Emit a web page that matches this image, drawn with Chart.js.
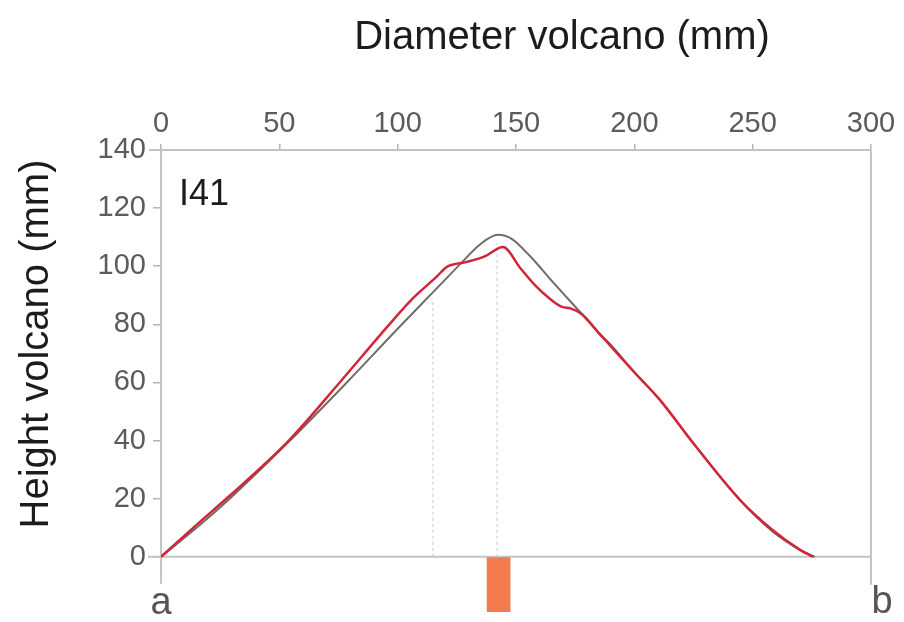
<!DOCTYPE html>
<html>
<head>
<meta charset="utf-8">
<script src="https://cdn.jsdelivr.net/npm/chart.js@4.4.1/dist/chart.umd.min.js"></script>
<style>
  html, body { margin: 0; padding: 0; background: #fff; }
</style>
</head>
<body>
<canvas id="chart" width="904" height="622"></canvas>
<script>
// values (mm)
const xTicks = [0, 50, 100, 150, 200, 250, 300];
const yTicks = [0, 20, 40, 60, 80, 100, 120, 140];

const grayProfile = [
  [0, 0], [15, 10], [29, 20], [54.5, 40], [78.5, 60], [100, 78.5], [110.7, 87.5],
  [120, 95.3], [126.5, 100.8], [134.8, 107.5], [142.4, 110.8], [148, 109.5],
  [155.9, 103.5], [165.6, 94.5], [178, 83.4], [185, 77], [190, 73], [200, 63.5],
  [210.8, 54], [225, 39], [244.6, 19.6], [258, 9], [270, 2.4], [276.3, 0],
];
const redProfile = [
  [0, 0], [15, 11], [29, 21], [54, 40], [75.5, 60], [96.5, 80], [106.5, 89],
  [116.6, 96.5], [120.8, 99.8], [129.3, 101.5], [137, 103.5], [144.5, 106.6],
  [151.7, 99.5], [158, 93.5], [164.3, 88.8], [169.4, 86], [173, 85.5],
  [178, 83.4], [185, 77], [190, 72.5], [200, 63.5], [210.8, 54], [225, 39],
  [244.6, 19.6], [258, 9.5], [270, 2.4], [275.5, 0],
];
const guideLeft = [[114.9, 0], [114.9, 89]];
const guidePeak = [[142, 0], [142, 108]];
const markerX = 142.65;
const markerSpan = [-19, 0];

const FONT = '"Liberation Sans", Arial, sans-serif';
const toPts = (arr) => arr.map(([x, y]) => ({ x, y }));

const decor = {
  id: "decor",
  beforeDatasetsDraw(chart) {
    const { ctx, scales: { x, y } } = chart;
    const x0 = x.getPixelForValue(0), x1 = x.getPixelForValue(300);
    const yTop = y.getPixelForValue(140), y0 = y.getPixelForValue(0);
    ctx.save();
    ctx.strokeStyle = "#c4c4c4";
    ctx.lineWidth = 2;
    ctx.beginPath();
    ctx.moveTo(x0 - 12, yTop); ctx.lineTo(x1, yTop);
    ctx.moveTo(x0 - 13, y0); ctx.lineTo(x1, y0);
    ctx.moveTo(x0, yTop); ctx.lineTo(x0, y0 + 27);
    ctx.moveTo(x1, yTop); ctx.lineTo(x1, y0 + 28);
    ctx.stroke();
    ctx.restore();
  },
  afterDraw(chart) {
    const { ctx, scales: { x, y } } = chart;
    const x0 = x.getPixelForValue(0), x1 = x.getPixelForValue(300);
    ctx.save();
    ctx.fillStyle = "#1c1c1c";
    ctx.font = `40px ${FONT}`;
    ctx.textAlign = "center";
    ctx.textBaseline = "alphabetic";
    ctx.fillText("Diameter volcano (mm)", 562, 49);

    ctx.save();
    ctx.translate(48, 344);
    ctx.rotate(-Math.PI / 2);
    ctx.fillText("Height volcano (mm)", 0, 0);
    ctx.restore();

    ctx.textAlign = "left";
    ctx.font = `36px ${FONT}`;
    ctx.fillText("I41", 179, 205);

    ctx.fillStyle = "#555";
    ctx.font = `38px ${FONT}`;
    ctx.textAlign = "center";
    ctx.fillText("a", x0, 614);
    ctx.fillText("b", x1 + 11, 613);
    ctx.restore();
  },
};

function zeroPad(s) {
  s.paddingLeft = 0; s.paddingRight = 0; s.paddingTop = 0; s.paddingBottom = 0;
}

new Chart(document.getElementById("chart"), {
  type: "line",
  data: {
    datasets: [
      { label: "red", data: toPts(redProfile), borderColor: "#d4243c", borderWidth: 2.5,
        pointRadius: 0, cubicInterpolationMode: "monotone", order: 0 },
      { label: "gray", data: toPts(grayProfile), borderColor: "#6e6e64", borderWidth: 2,
        pointRadius: 0, cubicInterpolationMode: "monotone", order: 1 },
      { label: "guide1", data: toPts(guideLeft), borderColor: "#c8c8c8", borderWidth: 1,
        borderDash: [3, 3], pointRadius: 0, order: 2 },
      { label: "guide2", data: toPts(guidePeak), borderColor: "#c8c8c8", borderWidth: 1,
        borderDash: [3, 3], pointRadius: 0, order: 2 },
      { type: "bar", label: "marker", data: [{ x: markerX, y: markerSpan }],
        backgroundColor: "#f27a4e", barThickness: 23, grouped: false, order: 3 },
    ],
  },
  options: {
    responsive: false,
    animation: false,
    layout: { padding: { left: 0, top: 0, right: 33, bottom: 10 } },
    plugins: { legend: { display: false }, tooltip: { enabled: false }, title: { display: false } },
    scales: {
      x: {
        type: "linear",
        position: "top",
        min: 0, max: 300,
        offset: false,
        afterBuildTicks: (s) => { s.ticks = xTicks.map((v) => ({ value: v })); },
        afterFit: (s) => { s.height = 150; zeroPad(s); },
        border: { display: false },
        grid: { drawOnChartArea: false, offset: false, tickLength: 6, color: "#b4b4b4", lineWidth: 1.5 },
        ticks: { padding: 3, color: "#5b5b5b", font: { family: FONT, size: 29 }, maxRotation: 0 },
      },
      y: {
        type: "linear",
        min: -19, max: 140,
        afterBuildTicks: (s) => { s.ticks = yTicks.map((v) => ({ value: v })); },
        afterFit: (s) => { s.width = 161; zeroPad(s); },
        border: { display: false },
        grid: { drawOnChartArea: false, tickLength: 8, color: "#b4b4b4", lineWidth: 1.5 },
        ticks: { padding: 7, color: "#5b5b5b", font: { family: FONT, size: 29 } },
      },
    },
  },
  plugins: [decor],
});
</script>
</body>
</html>
